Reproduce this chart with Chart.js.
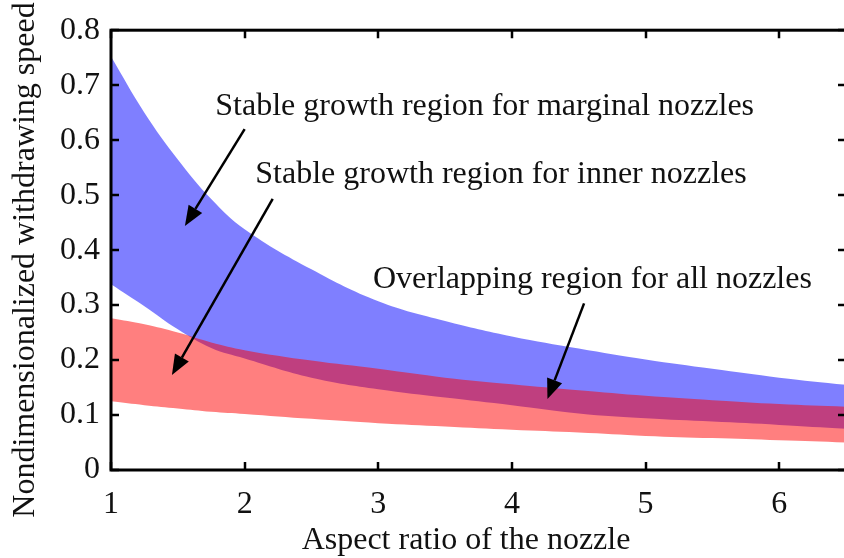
<!DOCTYPE html>
<html>
<head>
<meta charset="utf-8">
<script src="https://cdn.jsdelivr.net/npm/chart.js@4/dist/chart.umd.min.js"></script>
<style>
  html, body { margin: 0; padding: 0; background: #fff; overflow: hidden; }
  canvas { display: block; }
</style>
</head>
<body>
<canvas id="chart" width="848" height="558"></canvas>
<script>
// Aspect ratio of the nozzle (x) and the band limits of the withdrawing speed
const aspectRatio   = [1, 1.25, 1.5, 1.75, 2, 2.5, 3, 3.5, 4, 4.5, 5, 5.5, 6, 6.5];
const marginalUpper = [0.752, 0.650, 0.565, 0.493, 0.438, 0.365, 0.307, 0.271, 0.243, 0.221, 0.201, 0.184, 0.168, 0.155];
const marginalLower = [0.338, 0.298, 0.256, 0.222, 0.203, 0.168, 0.147, 0.132, 0.118, 0.103, 0.094, 0.088, 0.082, 0.075];
const innerUpper    = [0.276, 0.265, 0.250, 0.232, 0.218, 0.199, 0.184, 0.168, 0.156, 0.145, 0.135, 0.127, 0.120, 0.115];
const innerLower    = [0.125, 0.118, 0.112, 0.106, 0.102, 0.093, 0.085, 0.079, 0.073, 0.068, 0.062, 0.058, 0.054, 0.050];

const xTickValues = [1, 2, 3, 4, 5, 6];
const yTickValues = [0, 0.1, 0.2, 0.3, 0.4, 0.5, 0.6, 0.7, 0.8];

const xTitle = 'Aspect ratio of the nozzle';
const yTitle = 'Nondimensionalized withdrawing speed';

// Callout texts (left edge / vertical middle in data units) and their arrows
const notes = [
  { text: 'Stable growth region for marginal nozzles', x: 1.78, y: 0.661 },
  { text: 'Stable growth region for inner nozzles',    x: 2.08, y: 0.537 },
  { text: 'Overlapping region for all nozzles',        x: 2.96, y: 0.347 }
];
const arrows = [
  { from: [2.00, 0.620], to: [1.553, 0.444] },
  { from: [2.21, 0.493], to: [1.456, 0.173] },
  { from: [4.54, 0.303], to: [4.266, 0.129] }
];

const FONT = '"Liberation Serif", "Times New Roman", serif';
const FONT_SIZE = 32;
const INK = '#111';

const pts = arr => aspectRatio.map((v, i) => ({ x: v, y: arr[i] }));

const band = (label, data, fill, color) => ({
  label, data: pts(data),
  borderWidth: 0, pointRadius: 0, pointHoverRadius: 0,
  tension: 0.4,
  fill, backgroundColor: color
});

// Frame, inward tick marks, axis titles, callouts and arrows
const decor = {
  id: 'decor',
  afterDatasetsDraw(chart) {
    const { ctx, chartArea: a, scales: { x, y } } = chart;
    ctx.save();
    ctx.strokeStyle = '#000';
    ctx.lineWidth = 3;
    ctx.strokeRect(a.left, a.top, a.right - a.left, a.bottom - a.top);

    const tl = 8;
    ctx.lineWidth = 2.5;
    ctx.beginPath();
    x.ticks.forEach(t => {
      const px = Math.round(x.getPixelForValue(t.value));
      ctx.moveTo(px, a.bottom); ctx.lineTo(px, a.bottom - tl);
      ctx.moveTo(px, a.top);    ctx.lineTo(px, a.top + tl);
    });
    y.ticks.forEach(t => {
      const py = Math.round(y.getPixelForValue(t.value));
      ctx.moveTo(a.left, py);  ctx.lineTo(a.left + tl, py);
      ctx.moveTo(a.right, py); ctx.lineTo(a.right - tl, py);
    });
    ctx.stroke();

    ctx.fillStyle = INK;
    ctx.font = `${FONT_SIZE}px ${FONT}`;
    ctx.textAlign = 'center';
    ctx.textBaseline = 'middle';

    // x-axis title
    ctx.fillText(xTitle, 466, 541);

    // rotated y-axis title
    ctx.save();
    ctx.translate(26, 260);
    ctx.rotate(-Math.PI / 2);
    ctx.fillText(yTitle, 0, 0);
    ctx.restore();

    // callout texts
    ctx.textAlign = 'left';
    notes.forEach(n => ctx.fillText(n.text, x.getPixelForValue(n.x), y.getPixelForValue(n.y)));

    // arrows
    ctx.strokeStyle = '#000';
    ctx.fillStyle = '#000';
    ctx.lineWidth = 2.5;
    arrows.forEach(ar => {
      const x0 = x.getPixelForValue(ar.from[0]), y0 = y.getPixelForValue(ar.from[1]);
      const x1 = x.getPixelForValue(ar.to[0]),   y1 = y.getPixelForValue(ar.to[1]);
      const ang = Math.atan2(y1 - y0, x1 - x0);
      const hl = 20, hw = 8;
      const bx = x1 - hl * Math.cos(ang), by = y1 - hl * Math.sin(ang);
      ctx.beginPath();
      ctx.moveTo(x0, y0); ctx.lineTo(bx, by);
      ctx.stroke();
      ctx.beginPath();
      ctx.moveTo(x1, y1);
      ctx.lineTo(bx + hw * Math.sin(ang), by - hw * Math.cos(ang));
      ctx.lineTo(bx - hw * Math.sin(ang), by + hw * Math.cos(ang));
      ctx.closePath();
      ctx.fill();
    });
    ctx.restore();
  }
};

new Chart(document.getElementById('chart'), {
  type: 'line',
  data: {
    datasets: [
      band('Inner nozzles, lower limit',    innerLower,    false, 'transparent'),
      band('Inner nozzles, upper limit',    innerUpper,    '-1',  'rgba(255, 0, 0, 0.5)'),
      band('Marginal nozzles, lower limit', marginalLower, false, 'transparent'),
      band('Marginal nozzles, upper limit', marginalUpper, '-1',  'rgba(0, 0, 255, 0.5)')
    ]
  },
  options: {
    responsive: false,
    animation: false,
    events: [],
    layout: { padding: { top: 16, right: 2, left: 0, bottom: 0 } },
    plugins: { legend: { display: false }, tooltip: { enabled: false } },
    scales: {
      x: {
        type: 'linear', min: 1, max: 6.5,
        afterBuildTicks: s => { s.ticks = xTickValues.map(v => ({ value: v })); },
        afterFit: s => { s.height = 88; },
        grid: { display: false, drawTicks: false },
        border: { display: false },
        ticks: { color: INK, padding: 15, maxRotation: 0, font: { family: FONT, size: FONT_SIZE } }
      },
      y: {
        type: 'linear', min: 0, max: 0.8,
        afterBuildTicks: s => { s.ticks = yTickValues.map(v => ({ value: v })); },
        afterFit: s => { s.width = 111; },
        grid: { display: false, drawTicks: false },
        border: { display: false },
        ticks: { color: INK, padding: 11, callback: v => String(v), font: { family: FONT, size: FONT_SIZE } }
      }
    }
  },
  plugins: [decor]
});
</script>
</body>
</html>
